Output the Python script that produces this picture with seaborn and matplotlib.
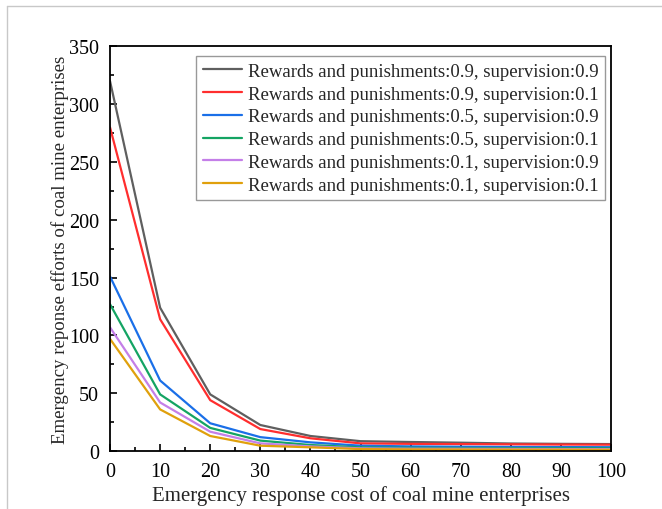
import numpy as np
import pandas as pd
import matplotlib
matplotlib.use("Agg")
import matplotlib.pyplot as plt
from matplotlib.lines import Line2D
from matplotlib.ticker import MultipleLocator
import seaborn as sns

cost = [0, 10, 20, 30, 40, 50, 60, 70, 80, 90, 100]
labels = [
    "Rewards and punishments:0.9, supervision:0.9",
    "Rewards and punishments:0.9, supervision:0.1",
    "Rewards and punishments:0.5, supervision:0.9",
    "Rewards and punishments:0.5, supervision:0.1",
    "Rewards and punishments:0.1, supervision:0.9",
    "Rewards and punishments:0.1, supervision:0.1",
]
s_09_09 = [320, 124, 49, 22.5, 13, 8.5, 7.8, 7.2, 6.5, 6.2, 6.0]
s_09_01 = [280, 114, 44, 19, 11, 6.6, 6.2, 6.0, 5.8, 5.6, 5.5]
s_05_09 = [151, 61, 24, 12, 7.5, 4.6, 4.0, 3.7, 3.5, 3.4, 3.3]
s_05_01 = [127, 49, 20, 9, 5.2, 3.2, 2.8, 2.6, 2.5, 2.4, 2.3]
s_01_09 = [107, 42, 16.7, 6.6, 4, 2.3, 2.0, 1.9, 1.8, 1.7, 1.6]
s_01_01 = [97, 36, 13, 4.6, 3.2, 1.7, 1.4, 1.3, 1.2, 1.2, 1.1]
series = [s_09_09, s_09_01, s_05_09, s_05_01, s_01_09, s_01_01]
colors = ["#5f5f5f", "#ff2e2e", "#1a6fe8", "#14a463", "#c47fe8", "#e0a00c"]

df = pd.concat([pd.DataFrame({"cost": cost, "effort": s, "label": l})
                for s, l in zip(series, labels)], ignore_index=True)

sns.set_theme(style="ticks")
plt.rcParams["font.family"] = ["Liberation Serif", "DejaVu Serif"]

fig = plt.figure(figsize=(6.62, 5.10), dpi=100)
ax = fig.add_axes([0.1662, 0.1137, 0.923 - 0.1662, 0.9069 - 0.1137])

sns.lineplot(data=df, x="cost", y="effort", hue="label", hue_order=labels,
             palette=colors, linewidth=1.6, ax=ax, legend=True)

ax.set_xlim(0, 100)
ax.set_ylim(0, 350)
ax.xaxis.set_major_locator(MultipleLocator(10))
ax.xaxis.set_minor_locator(MultipleLocator(5))
ax.yaxis.set_major_locator(MultipleLocator(50))
ax.yaxis.set_minor_locator(MultipleLocator(25))
ax.tick_params(which="both", direction="in", top=False, right=False,
               labelsize=14.5, colors="black", width=1.2)
ax.tick_params(which="major", length=5)
ax.tick_params(which="minor", length=3)
ax.tick_params(axis="y", which="major", pad=8)
ax.tick_params(axis="x", which="major", pad=8)
for sp in ax.spines.values():
    sp.set_linewidth(1.3)
    sp.set_color("black")
    sp.set_visible(True)

ax.set_xlabel("Emergency response cost of coal mine enterprises", fontsize=15, labelpad=2.5)
ax.set_ylabel("Emergency reponse efforts of coal mine enterprises", fontsize=13.6, labelpad=0)

handles = [Line2D([], [], color=c, linewidth=1.6) for c in colors]
leg = ax.legend(handles, labels, loc="upper right", bbox_to_anchor=(0.988, 0.9758),
                borderaxespad=0, fontsize=13.5, frameon=True, fancybox=False,
                edgecolor="#808080", handlelength=2.1, handletextpad=0.3,
                labelspacing=0.3, borderpad=0.35)
leg.get_frame().set_linewidth(1.0)

fig.add_artist(Line2D([6.5 / 662, 6.5 / 662], [0, 1 - 7 / 510], color="#c8c8c8", linewidth=1.0))
fig.add_artist(Line2D([6.5 / 662, 1], [1 - 7 / 510, 1 - 7 / 510], color="#c8c8c8", linewidth=1.0))

fig.savefig("out.png", dpi=100, facecolor="white")
